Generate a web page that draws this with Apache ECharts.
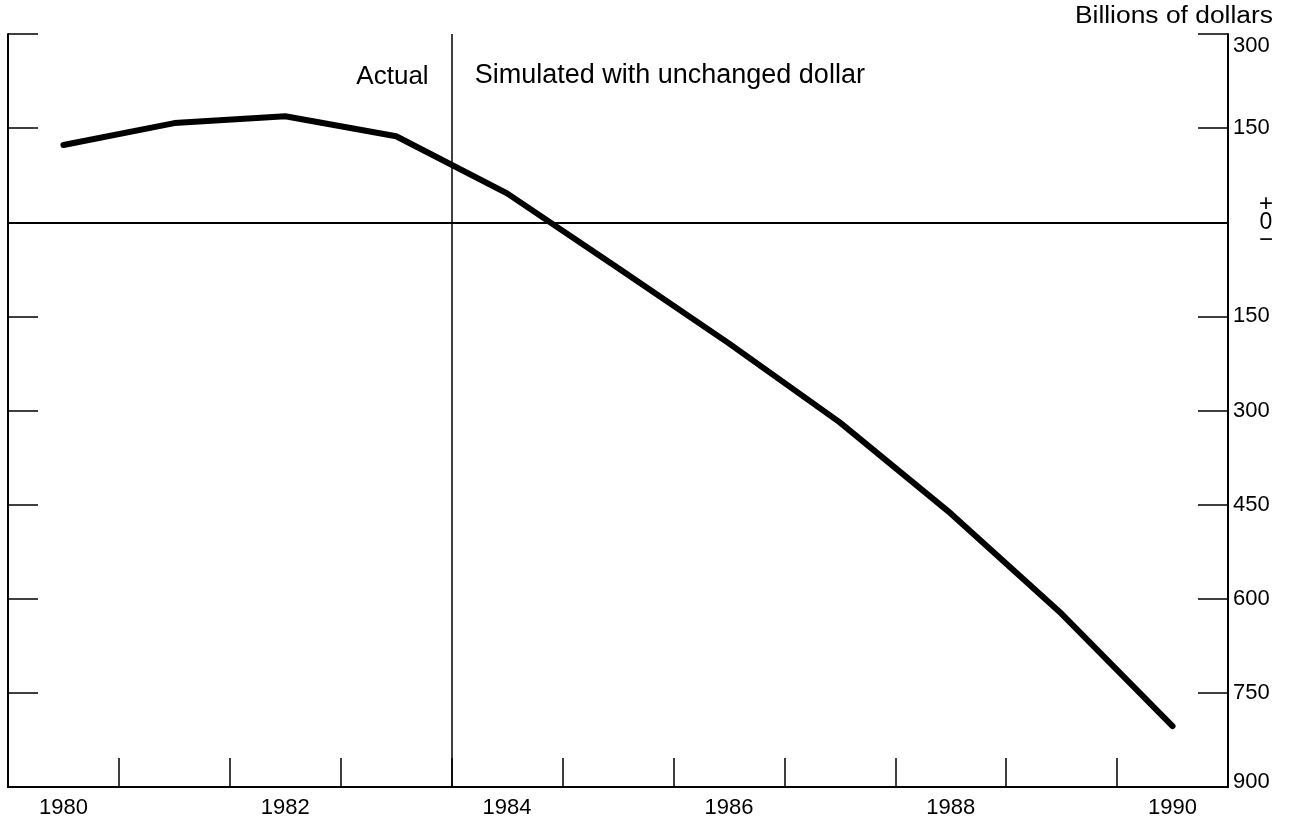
<!DOCTYPE html>
<html>
<head>
<meta charset="utf-8">
<script src="https://cdn.jsdelivr.net/npm/echarts@6/dist/echarts.min.js"></script>
<style>
html,body{margin:0;padding:0;background:#fff;}
#chart{width:1295px;height:827px;}
</style>
</head>
<body>
<div id="chart"></div>
<script>
var years = ['1980','1981','1982','1983','1984','1985','1986','1987','1988','1989','1990'];
var balance = [123, 158, 169, 137, 46, -73, -193, -319, -464, -624, -803];
var yTicks = [300, 150, 0, -150, -300, -450, -600, -750, -900];
var dividerYear = 1983.5;
var unitLabel = 'Billions of dollars';
var leftNote = 'Actual';
var rightNote = 'Simulated with unchanged dollar';

var FONT = '"Liberation Sans", Arial, Helvetica, sans-serif';
var INK = '#000';

var chart = echarts.init(document.getElementById('chart'), null, {renderer: 'canvas'});

var seriesData = years.map(function (y, i) { return [Number(y), balance[i]]; });

var option = {
  backgroundColor: '#fff',
  animation: false,
  grid: {left: 8, right: 67, top: 34, bottom: 40, containLabel: false},
  xAxis: [
    {
      type: 'category',
      data: years,
      boundaryGap: true,
      position: 'bottom',
      axisLine: {show: true, onZero: false, lineStyle: {color: INK, width: 2}},
      axisTick: {show: true, inside: true, length: 29, interval: 0, lineStyle: {color: INK, width: 1.5}},
      axisLabel: {show: true, interval: 1, margin: 10, fontSize: 22, color: INK, fontFamily: FONT},
      splitLine: {show: false}
    },
    {
      type: 'value',
      min: Number(years[0]) - 0.5,
      max: Number(years[years.length - 1]) + 0.5,
      show: false,
      splitLine: {show: false}
    }
  ],
  yAxis: [
    {
      type: 'value',
      position: 'right',
      min: yTicks[yTicks.length - 1],
      max: yTicks[0],
      interval: 150,
      axisLine: {show: true, lineStyle: {color: INK, width: 2}},
      axisTick: {show: true, inside: true, length: 30, lineStyle: {color: INK, width: 1.5}},
      splitLine: {show: false},
      axisLabel: {
        show: true, margin: 5, color: INK, fontSize: 22, fontFamily: FONT,
        formatter: function (v) {
          if (v === yTicks[0]) return '{t|' + Math.abs(v) + '}';
          if (v === yTicks[yTicks.length - 1]) return '{b|' + Math.abs(v) + '}';
          if (v === 0) return '{pm|+}\n{z|0}\n{pm|\u2212}';
          return String(Math.abs(v));
        },
        rich: {
          t: {fontSize: 22, fontFamily: FONT, color: INK, padding: [24, 0, 0, 0]},
          b: {fontSize: 22, fontFamily: FONT, color: INK, padding: [0, 0, 10, 0]},
          pm: {fontSize: 24, fontFamily: FONT, color: INK, lineHeight: 15, width: 16, align: 'center', padding: [0, 0, 0, 25]},
          z: {fontSize: 23, fontFamily: FONT, color: INK, lineHeight: 21, width: 16, align: 'center', padding: [0, 0, 0, 25]}
        }
      }
    },
    {
      type: 'value',
      position: 'left',
      min: yTicks[yTicks.length - 1],
      max: yTicks[0],
      interval: 150,
      axisLine: {show: true, lineStyle: {color: INK, width: 2}},
      axisTick: {show: true, inside: true, length: 30, lineStyle: {color: INK, width: 1.5}},
      axisLabel: {show: false},
      splitLine: {show: false}
    }
  ],
  series: [
    {
      type: 'line',
      xAxisIndex: 1,
      yAxisIndex: 0,
      data: seriesData,
      symbol: 'none',
      smooth: false,
      lineStyle: {color: '#000', width: 6, cap: 'round', join: 'round'},
      markLine: {
        silent: true,
        symbol: 'none',
        label: {show: false},
        data: [
          {yAxis: 0, lineStyle: {color: INK, width: 2, type: 'solid'}},
          {xAxis: dividerYear, lineStyle: {color: INK, width: 1.5, type: 'solid'}}
        ]
      },
      z: 5
    }
  ]
};

chart.setOption(option);

var divX = chart.convertToPixel({xAxisIndex: 1}, dividerYear);
var gridRight = 1295 - 67;
chart.setOption({
  graphic: [
    {type: 'text', x: divX - 23, y: 77,
     style: {text: leftNote, font: '26px ' + FONT, fill: INK, textAlign: 'right', textVerticalAlign: 'middle'}},
    {type: 'text', x: divX + 23, y: 76,
     style: {text: rightNote, font: '27px ' + FONT, fill: INK, textAlign: 'left', textVerticalAlign: 'middle'}},
    {type: 'text', x: gridRight + 45, y: 17, scaleX: 1.2, scaleY: 1.05,
     style: {text: unitLabel, font: '22px ' + FONT, fill: INK, textAlign: 'right', textVerticalAlign: 'middle'}}
  ]
});
</script>
</body>
</html>
